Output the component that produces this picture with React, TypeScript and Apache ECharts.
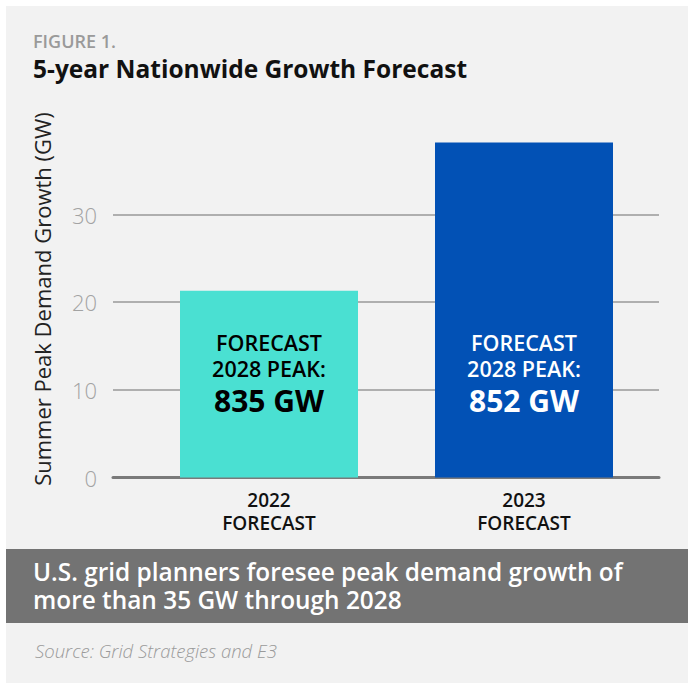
import React, { useEffect, useRef } from "react";
import * as echarts from "echarts";

const categories = ["2022\nFORECAST", "2023\nFORECAST"];
const growth = [21.3, 38.2];
const peakValues = ["835 GW", "852 GW"];
const barColors = ["#4AE0D2", "#0251B5"];
const labelColors = ["#000000", "#ffffff"];

const FONT = "'Open Sans', 'Noto Sans', sans-serif";

export default function App() {
  const ref = useRef<HTMLDivElement>(null);
  useEffect(() => {
    if (!ref.current) return;
    const chart = echarts.init(ref.current, null, { renderer: "svg" });
    const px = (477.5 - 214.5) / 30;
    const topB = 477.5 - 40 * px;
    chart.setOption({
      animation: false,
      backgroundColor: "#ffffff",
      textStyle: { fontFamily: FONT },
      graphic: [
        { type: "rect", z: -10, shape: { x: 6, y: 6, width: 682, height: 677 }, style: { fill: "#f2f2f2" } },
        { type: "text", x: 33, y: 31.5, style: { text: "FIGURE 1.", fontFamily: FONT, fontSize: 18, fontWeight: 600, fill: "#9a9a9a" } },
        { type: "text", x: 33, y: 55.5, style: { text: "5-year Nationwide Growth Forecast", fontFamily: FONT, fontSize: 24.5, fontWeight: 700, fill: "#111111" } },
        {
          type: "text", x: 42, y: 299, rotation: Math.PI / 2,
          style: { text: "Summer Peak Demand Growth (GW)", fontFamily: FONT, fontSize: 22, fill: "#222222", align: "center", verticalAlign: "middle" },
        },
        { type: "rect", shape: { x: 6, y: 549, width: 682, height: 74 }, style: { fill: "#737373" } },
        { type: "text", x: 33, y: 557, style: { text: "U.S. grid planners foresee peak demand growth of", fontFamily: FONT, fontSize: 24.4, fontWeight: 600, lineHeight: 28, fill: "#ffffff" } },
        { type: "text", x: 33, y: 585, style: { text: "more than 35 GW through 2028", fontFamily: FONT, fontSize: 24.4, fontWeight: 600, lineHeight: 28, fill: "#ffffff" } },
        { type: "text", x: 35, y: 641, style: { text: "Source: Grid Strategies and E3", fontFamily: FONT, fontSize: 18.5, fontStyle: "italic", fontWeight: 300, fill: "#9a9a9a" } },
      ],
      grid: [
        { left: 113, right: 29, top: 214.5, bottom: 683 - 477.5 },
        { left: 141.5, right: 36.5, top: topB, bottom: 683 - 477.5 },
      ],
      xAxis: [
        { gridIndex: 0, type: "value", min: 0, max: 1, show: true, axisLine: { show: true, onZero: false, lineStyle: { color: "#7a7a7a", width: 3 } }, axisTick: { show: false }, axisLabel: { show: false }, splitLine: { show: false } },
        {
          gridIndex: 1, type: "category", data: categories,
          axisLine: { show: false }, axisTick: { show: false },
          axisLabel: { margin: 11, fontSize: 19, fontWeight: 600, lineHeight: 23, color: "#111111", fontFamily: FONT },
        },
      ],
      yAxis: [
        {
          gridIndex: 0, type: "value", min: 0, max: 30, interval: 10,
          axisLine: { show: false }, axisTick: { show: false },
          axisLabel: { margin: 16, fontSize: 22, fontWeight: 300, color: "#a3a3a3", fontFamily: FONT },
          splitLine: { show: true, lineStyle: { color: "#999999", width: 1.5 } },
        },
        { gridIndex: 1, type: "value", min: 0, max: 40, show: false, splitLine: { show: false } },
      ],
      series: [
        {
          type: "bar", xAxisIndex: 1, yAxisIndex: 1, barWidth: 178, z: 1,
          data: growth.map((v, i) => ({
            value: v,
            itemStyle: { color: barColors[i] },
            label: {
              show: true, position: "insideBottom", distance: 58,
              formatter: "{a|FORECAST}\n{a|2028 PEAK:}\n{c|" + peakValues[i] + "}",
              rich: {
                a: { fontSize: 21.5, fontWeight: 600, lineHeight: 26, color: labelColors[i], fontFamily: FONT, align: "center" },
                c: { fontSize: 30, fontWeight: 700, lineHeight: 38, color: labelColors[i], fontFamily: FONT, align: "center" },
              },
            },
          })),
        },
      ],
    });
    return () => chart.dispose();
  }, []);
  return <div ref={ref} style={{ position: "fixed", left: 0, top: 0, width: 688, height: 683 }} />;
}
